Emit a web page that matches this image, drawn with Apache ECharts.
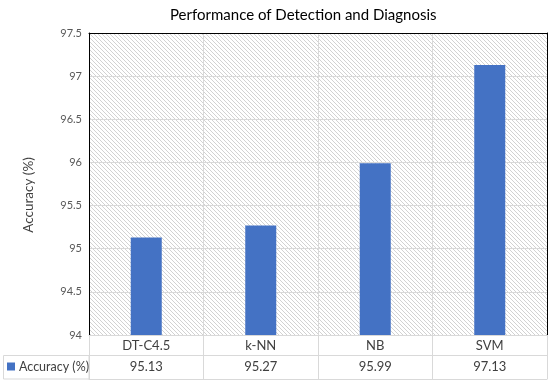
<!DOCTYPE html>
<html>
<head>
<meta charset="utf-8">
<script src="https://cdn.jsdelivr.net/npm/echarts@6/dist/echarts.min.js"></script>
<style>html,body{margin:0;padding:0;background:#fff}#c{width:550px;height:380px}</style>
</head>
<body>
<div id="c"></div>
<script>
const categories = ['DT-C4.5', 'k-NN', 'NB', 'SVM'];
const accuracy = [95.13, 95.27, 95.99, 97.13];
const seriesName = 'Accuracy (%)';
const yTicks = { min: 94, max: 97.5, interval: 0.5 };

const FONT = 'Lato';
const hatch = document.createElement('canvas');
hatch.width = 4; hatch.height = 4;
const hc = hatch.getContext('2d');
hc.fillStyle = '#ffffff'; hc.fillRect(0, 0, 4, 4);
hc.strokeStyle = '#d2d2d2'; hc.lineWidth = 1;
for (const c of [-4, 0, 4]) { hc.beginPath(); hc.moveTo(0, c); hc.lineTo(4, 4 + c); hc.stroke(); }

const chart = echarts.init(document.getElementById('c'), null, { renderer: 'canvas' });
const light = '#d9d9d9';
chart.setOption({
  animation: false,
  textStyle: { fontFamily: FONT },
  title: { text: 'Performance of Detection and Diagnosis', left: 165, top: 3,
    textStyle: { fontFamily: FONT, fontSize: 15, fontWeight: 'normal', color: '#000' } },
  legend: { data: [seriesName], left: 7, top: 360, padding: 0, icon: 'rect', itemWidth: 8, itemHeight: 8, itemGap: 4,
    textStyle: { fontFamily: FONT, fontSize: 12.5, color: '#404040', padding: [0, 0, 0, -1] } },
  grid: { left: 89, right: 3, top: 33, bottom: 45, show: true, borderWidth: 0,
    backgroundColor: { image: hatch, repeat: 'repeat' } },
  xAxis: [
    { type: 'category', data: categories, position: 'bottom',
      axisLine: { show: true, lineStyle: { color: light } },
      axisTick: { show: true, length: 44, lineStyle: { color: light } },
      axisLabel: { margin: 4, fontSize: 13, color: '#404040', fontFamily: FONT },
      splitLine: { show: true, lineStyle: { color: light } } },
    { type: 'category', data: accuracy.map(v => v.toFixed(2)), position: 'bottom', offset: 20,
      axisLine: { show: true, lineStyle: { color: light } }, axisTick: { show: false },
      axisLabel: { margin: 5, fontSize: 13, color: '#404040', fontFamily: FONT } },
    { type: 'category', data: categories, position: 'bottom', offset: 44,
      axisLine: { show: true, lineStyle: { color: light } }, axisTick: { show: false }, axisLabel: { show: false } },
    { type: 'category', data: categories, position: 'top',
      axisLine: { show: true, lineStyle: { color: '#000' } }, axisTick: { show: false }, axisLabel: { show: false } }
  ],
  yAxis: [
    { type: 'value', min: yTicks.min, max: yTicks.max, interval: yTicks.interval,
      name: 'Accuracy (%)', nameLocation: 'middle', nameGap: 53, nameRotate: 90,
      nameTextStyle: { fontFamily: FONT, fontSize: 13.5, color: '#404040', padding: [0, 22, 0, 0] },
      axisLine: { show: true, lineStyle: { color: '#000' } }, axisTick: { show: false },
      axisLabel: { margin: 7, fontSize: 11, color: '#595959', fontFamily: FONT },
      splitLine: { show: true, lineStyle: { color: light } } },
    { type: 'value', min: yTicks.min, max: yTicks.max, interval: yTicks.interval, position: 'right',
      axisLine: { show: true, lineStyle: { color: '#000' } }, axisTick: { show: false },
      axisLabel: { show: false }, splitLine: { show: false } }
  ],
  graphic: [
    { type: 'rect', shape: { x: 3.5, y: 355.5, width: 85.5, height: 23.5 },
      style: { fill: 'none', stroke: light, lineWidth: 1 }, silent: true }
  ],
  series: [
    { name: seriesName, type: 'bar', data: accuracy, barWidth: 31, xAxisIndex: 0, yAxisIndex: 0,
      itemStyle: { color: '#4472C4' } }
  ]
});
</script>
</body>
</html>
